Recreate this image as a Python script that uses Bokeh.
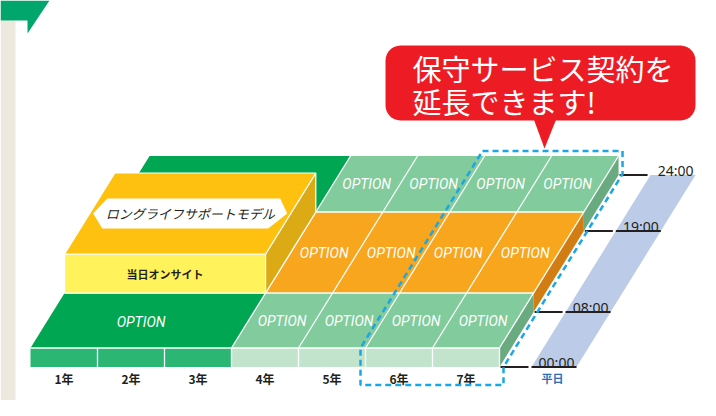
import numpy as np
from bokeh.plotting import figure
from bokeh.models import Range1d, ColumnDataSource
from bokeh.core.properties import value
from bokeh.embed import file_html
from bokeh.resources import INLINE

# ---------------- data ----------------
years = ["1年", "2年", "3年", "4年", "5年", "6年", "7年"]
hours = ["00:00", "08:00", "19:00", "24:00"]
day_type = "平日"
model_name = "ロングライフサポートモデル"
model_service = "当日オンサイト"
model_years = 3                      # years covered by the model
extended_years = ["6年", "7年"]       # years the contract can be extended by
option_label = "OPTION"
callout = ["保守サービス契約を", "延長できます!"]

# ---------------- layout / style ----------------
X0, Y0 = 30.0, 347.5      # front-left corner of slab top
YEAR_W = 67.0             # width of one year on screen
SLANT = 0.62              # oblique shift per unit depth
THICK = 19.0              # slab thickness
BOX_H = 39.0              # height of the model box
BAND_DEPTH = [0, 55, 136, 192]   # screen depth of each hour boundary

C_DKGREEN = "#00a651"
C_LTGREEN = "#82cb9c"
C_FRONT_DK = "#2cb673"
C_FRONT_LT = "#c2e4cc"
C_SIDE_GREEN = "#6aaa80"
C_ORANGE = "#f7a61e"
C_SIDE_ORANGE = "#d27d14"
C_YELLOW = "#fff25a"
C_GOLD = "#fec110"
C_GOLD_SIDE = "#dcaa14"
C_BLUE_BAND = "#bccbe8"
C_RED = "#ed1c24"
C_DASH = "#1aa7e6"
C_TEXT = "#231f20"


def P(u, d, z=0.0):
    return (X0 + u * YEAR_W + d * SLANT, Y0 - d - z)


def face(pts):
    return [q[0] for q in pts], [q[1] for q in pts]


n_years = len(years)
ui = {y: i for i, y in enumerate(years)}

p = figure(width=700, height=400, x_range=Range1d(0, 700), y_range=Range1d(400, 0),
           output_backend="svg", toolbar_location=None, min_border=0)
p.xaxis.visible = False
p.yaxis.visible = False
p.xgrid.visible = False
p.ygrid.visible = False
p.outline_line_color = None
p.background_fill_color = "white"
p.border_fill_color = "white"

# page decorations (left strip and banner corner)
p.patch([0, 15, 15, 0], [20, 20, 416, 416], fill_color="#ede9df", line_color=None)
p.patch([0, 49, 27, 27, 0], [0, 0, 33, 20, 20], fill_color="#00a66b", line_color=None)

# ---------------- polygons ----------------
xs, ys, cols = [], [], []


def add(pts, c):
    a, b = face(pts)
    xs.append(a); ys.append(b); cols.append(c)


# blue weekday band (bottom plane, right of slab)
b0 = P(n_years, BAND_DEPTH[0], -THICK)
b1 = P(n_years, BAND_DEPTH[-1], -THICK)
add([(b0[0] + 32, b0[1]), (b0[0] + 77, b0[1]), (b1[0] + 77, b1[1]), (b1[0] + 32, b1[1])], C_BLUE_BAND)

# front face
for i in range(n_years):
    add([P(i, 0), P(i + 1, 0), P(i + 1, 0, -THICK), P(i, 0, -THICK)],
        C_FRONT_DK if i < model_years else C_FRONT_LT)

# right side faces, per time band
side_cols = [C_SIDE_GREEN, C_SIDE_ORANGE, C_SIDE_GREEN]
for r in range(3):
    d0, d1 = BAND_DEPTH[r], BAND_DEPTH[r + 1]
    add([P(n_years, d0), P(n_years, d1), P(n_years, d1, -THICK), P(n_years, d0, -THICK)], side_cols[r])

# top surface cells
top_cols = [C_LTGREEN, C_ORANGE, C_LTGREEN]
for r in range(3):
    d0, d1 = BAND_DEPTH[r], BAND_DEPTH[r + 1]
    add([P(0, d0), P(model_years, d0), P(model_years, d1), P(0, d1)], C_DKGREEN)
    add([P(model_years, d0), P(n_years, d0), P(n_years, d1), P(model_years, d1)], top_cols[r])

p.patches(xs="xs", ys="ys", fill_color="cols", line_color=None,
          source=ColumnDataSource(dict(xs=xs, ys=ys, cols=cols)))

# white grid lines
lx, ly = [], []


def seg(a, b):
    lx.append([a[0], b[0]]); ly.append([a[1], b[1]])


for i in range(1, n_years):
    seg(P(i, 0), P(i, 0, -THICK))
seg(P(n_years, 0), P(n_years, 0, -THICK))
for d in BAND_DEPTH[:3]:
    seg(P(0, d), P(n_years, d))
seg(P(n_years, 0), P(n_years, BAND_DEPTH[-1]))
for r in range(3):
    d0, d1 = BAND_DEPTH[r], BAND_DEPTH[r + 1]
    for i in range(model_years, n_years):
        seg(P(i, d0), P(i, d1))
p.multi_line(xs=lx, ys=ly, line_color="white", line_width=1.3)

# ---------------- model box ----------------
db0, db1 = BAND_DEPTH[1], BAND_DEPTH[2]
bx, by, bc = [], [], []
for pts, c in [
    ([P(0, db0), P(model_years, db0), P(model_years, db0, BOX_H), P(0, db0, BOX_H)], C_YELLOW),
    ([P(model_years, db0), P(model_years, db1), P(model_years, db1, BOX_H), P(model_years, db0, BOX_H)], C_GOLD_SIDE),
    ([P(0, db0, BOX_H), P(model_years, db0, BOX_H), P(model_years, db1, BOX_H), P(0, db1, BOX_H)], C_GOLD),
]:
    a, b = face(pts)
    bx.append(a); by.append(b); bc.append(c)
p.patches(xs="xs", ys="ys", fill_color="c", line_color="white", line_width=1.2,
          source=ColumnDataSource(dict(xs=bx, ys=by, c=bc)))

# label plate on box top
cx, cy = P(model_years / 2, (db0 + db1) / 2, BOX_H)
hex_off = [(-97, 0), (-83, -15), (90, -15), (97, 0), (78, 15), (-88, 15)]
p.patch([cx + o[0] for o in hex_off], [cy + o[1] for o in hex_off], fill_color="white", line_color=None)
p.text(x=[cx], y=[cy], text=[model_name], text_font=value("Noto Sans CJK JP"),
       text_font_size="13px", text_font_style="italic", text_color=C_TEXT,
       text_align="center", text_baseline="middle")
fx, fy = P(model_years / 2, db0, BOX_H / 2)
p.text(x=[fx], y=[fy], text=[model_service], text_font=value("Noto Sans CJK JP"),
       text_font_size="11px", text_font_style="bold", text_color=C_TEXT,
       text_align="center", text_baseline="middle")

# ---------------- OPTION labels ----------------
ox, oy = [], []
mx, my = P(model_years / 2, (BAND_DEPTH[0] + BAND_DEPTH[1]) / 2)
ox.append(mx - 7); oy.append(my + 1)
for r in range(3):
    dm = (BAND_DEPTH[r] + BAND_DEPTH[r + 1]) / 2
    for i in range(model_years, n_years):
        x, y = P(i + 0.5, dm)
        ox.append(x); oy.append(y)
p.text(x=ox, y=oy, text=[option_label] * len(ox), text_font=value("Roboto"),
       text_font_size="14px", text_font_style="italic", text_color="white",
       text_align="center", text_baseline="middle")

# year labels
yx = [P(i + 0.5, 0)[0] for i in range(n_years)]
p.text(x=yx, y=[378] * n_years, text=years, text_font=value("Noto Sans CJK JP"),
       text_font_size="12px", text_font_style="bold", text_color=C_TEXT,
       text_align="center", text_baseline="middle")

# ---------------- hour labels ----------------
kx, ky, ux, uy = [], [], [], []
tx, ty = [], []
for i, h in enumerate(hours):
    xb, yb = P(n_years, BAND_DEPTH[i], -THICK)
    kx.append([xb + 1, xb + 29]); ky.append([yb, yb])
    if i < len(hours) - 1:
        ux.append([xb + 32, xb + 77]); uy.append([yb, yb])
    tx.append(xb + 57); ty.append(yb - 5)
p.multi_line(xs=kx + ux, ys=ky + uy, line_color=C_TEXT, line_width=2)
p.text(x=tx, y=ty, text=hours, text_font=value("Noto Sans"), text_font_size="14px",
       text_color=C_TEXT, text_align="center", text_baseline="alphabetic")
b0 = P(n_years, 0, -THICK)
p.text(x=[b0[0] + 53], y=[b0[1] + 11], text=[day_type], text_font=value("Noto Sans CJK JP"),
       text_font_size="11px", text_font_style="bold", text_color="#2a6db5",
       text_align="center", text_baseline="middle")

# ---------------- highlight of extended years ----------------
e0 = ui[extended_years[0]]
e1 = ui[extended_years[-1]] + 1
dtop = BAND_DEPTH[-1]
a = P(e0, dtop); a = (a[0] - 2, a[1] - 5)
b = P(e1, dtop); b = (b[0] + 4, b[1] - 5)
c = P(e1, dtop, -THICK); c = (c[0] + 4, c[1] - 1)
d = P(e1, 0, -THICK); d = (d[0] + 4, d[1])
e = (d[0], d[1] + 18)
g = P(e0, 0); g = (g[0] - 5, g[1])
f = (g[0], e[1])
pts = [a, b, c, d, e, f, g, a]
p.line([q[0] for q in pts], [q[1] for q in pts], line_color=C_DASH, line_width=2.5,
       line_dash="6 4")

# ---------------- callout bubble ----------------
def round_rect(x0, y0, x1, y1, r, n=8):
    px, py = [], []
    for (ccx, ccy, a0) in [(x1 - r, y0 + r, -90), (x1 - r, y1 - r, 0), (x0 + r, y1 - r, 90), (x0 + r, y0 + r, 180)]:
        for t in np.linspace(np.radians(a0), np.radians(a0 + 90), n):
            px.append(ccx + r * np.cos(t)); py.append(ccy + r * np.sin(t))
    return px, py


rx, ry = round_rect(385, 45, 695, 120, 15)
p.patch(rx, ry, fill_color=C_RED, line_color=None)
p.patch([533, 556, 544], [118, 118, 148], fill_color=C_RED, line_color=None)
p.text(x=[412, 412], y=[67, 100], text=callout, text_font=value("Noto Sans CJK JP"),
       text_font_size="29px", text_color="white", text_align="left", text_baseline="middle")

open("out.html", "w").write(file_html(p, INLINE))
